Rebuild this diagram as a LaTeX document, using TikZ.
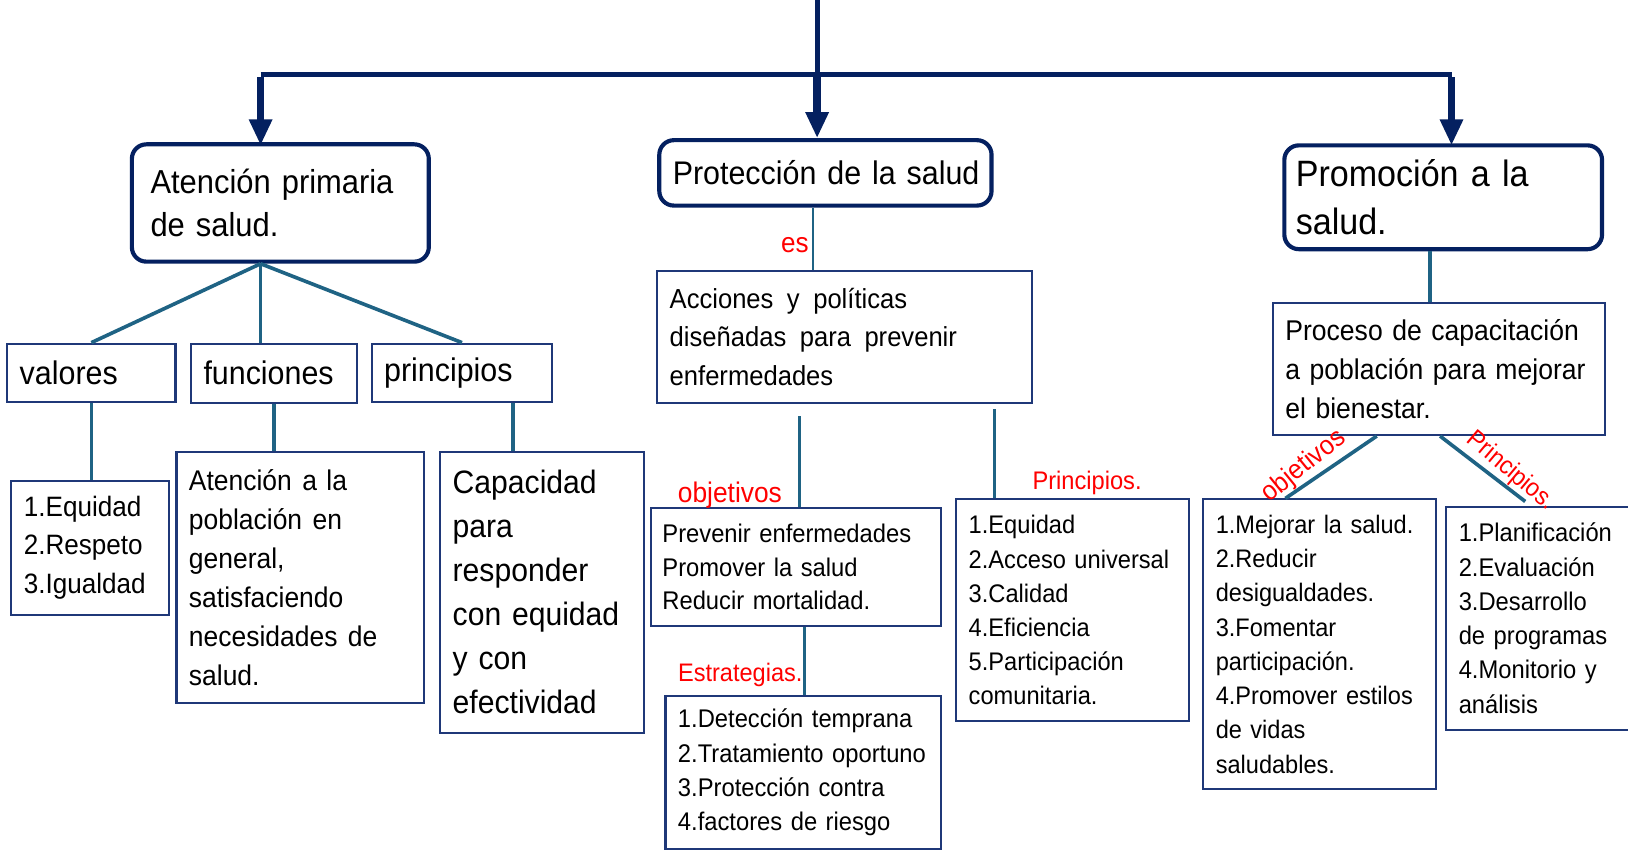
\documentclass[tikz,border=0pt]{standalone}
\usepackage{fontspec}
\setmainfont[FakeStretch=0.93,WordSpace=0.8]{Liberation Sans}
\usetikzlibrary{arrows.meta,calc}
\definecolor{navy}{RGB}{4,32,96}
\definecolor{conn}{RGB}{31,99,132}
\definecolor{bord}{RGB}{31,56,120}
\definecolor{lblred}{RGB}{255,0,0}
\newcommand{\fsz}[2]{\fontsize{#1}{#2}\selectfont}
\newcommand{\Lx}[1]{\mbox{#1}}
\newcommand{\ws}{\hspace{10pt}}
\newcommand{\wsb}{\hspace{13pt}}
\begin{document}
\begin{tikzpicture}[x=1pt,y=-1pt,
 title/.style={draw=navy, line width=4pt, rounded corners=14pt, fill=white, align=left, inner ysep=0pt},
 box/.style={draw=bord, line width=2pt, fill=white, align=left, inner ysep=0pt, inner xsep=12pt},
 link/.style={draw=conn, line width=3.5pt},
 bar/.style={draw=navy, line width=5pt},
 arr/.style={draw=navy, line width=7pt, -{Triangle[length=25pt,width=21pt]}},
 lbl/.style={text=lblred, inner sep=0pt},
]
\useasboundingbox (0,0) rectangle (1568,823);
\clip (0,0) rectangle (1568,823);

% titles
\node[title, minimum width=286pt, minimum height=113pt, text width=250pt, inner xsep=18pt, font=\fsz{32}{42}] (T1) at (270,195.5) {\Lx{Atención primaria}\\\Lx{de salud.}};
\node[title, minimum width=320pt, minimum height=63pt, text width=294pt, inner xsep=13pt, font=\fsz{31.5}{42}] (T2) at (795,166.5) {\Lx{Protección de la salud}};
\node[title, minimum width=306pt, minimum height=100pt, text width=284pt, inner xsep=11pt, font=\fsz{35.3}{46}] (T3) at (1390,190) {\Lx{Promoción a la}\\\Lx{salud.}};

% left branch
\node[box, minimum width=162pt, minimum height=56pt, text width=138pt, font=\fsz{31.5}{40}] (valores) at (88,359) {valores};
\node[box, minimum width=160pt, minimum height=57pt, text width=136pt, font=\fsz{31.5}{40}] (funciones) at (264,359.5) {funciones};
\node[box, minimum width=174pt, minimum height=56pt, text width=150pt, font=\fsz{31.5}{40}] (principios) at (445,359) {principios};
\node[box, minimum width=152pt, minimum height=129pt, text width=128pt, font=\fsz{27}{37.5}] (eq) at (87,527.5) {1.Equidad\\2.Respeto\\3.Igualdad};
\node[box, minimum width=238pt, minimum height=242pt, text width=214pt, font=\fsz{27.4}{37.6}] (atn) at (289,556) {\Lx{Atención\ws a la}\\\Lx{población\ws en}\\general,\\satisfaciendo\\\Lx{necesidades\ws de}\\salud.};
\node[box, minimum width=196pt, minimum height=271pt, text width=172pt, font=\fsz{31.2}{42.4}] (cap) at (522,570.5) {Capacidad\\para\\responder\\\Lx{con equidad}\\\Lx{y con}\\efectividad};

% middle branch
\node[box, minimum width=361pt, minimum height=127pt, text width=337pt, font=\fsz{26.5}{37}] (acc) at (813.5,324.5) {\Lx{Acciones\wsb y\wsb políticas}\\\Lx{diseñadas\wsb para\wsb prevenir}\\enfermedades};
\node[box, minimum width=279pt, minimum height=114pt, text width=257pt, inner xsep=11pt, font=\fsz{24.6}{32.5}] (prev) at (766.5,546) {\Lx{Prevenir enfermedades}\\\Lx{Promover la salud}\\\Lx{Reducir mortalidad.}};
\node[box, minimum width=265pt, minimum height=148pt, text width=241pt, font=\fsz{24.6}{33}] (det) at (773.5,744) {\Lx{1.Detección temprana}\\\Lx{2.Tratamiento oportuno}\\\Lx{3.Protección contra}\\\Lx{4.factores de riesgo}};
\node[box, minimum width=224pt, minimum height=213pt, text width=200pt, font=\fsz{24.5}{32.8}] (prin2) at (1033,587.5) {1.Equidad\\\Lx{2.Acceso universal}\\3.Calidad\\4.Eficiencia\\5.Participación\\comunitaria.};

% right branch
\node[box, minimum width=320pt, minimum height=127pt, text width=296pt, font=\fsz{27.5}{37.5}] (pro) at (1386,355.5) {\Lx{Proceso de capacitación}\\\Lx{a población para mejorar}\\\Lx{el bienestar.}};
\node[box, minimum width=224pt, minimum height=279pt, text width=200pt, font=\fsz{24.4}{33}] (mej) at (1271,620.5) {\Lx{1.Mejorar la salud.}\\2.Reducir\\desigualdades.\\3.Fomentar\\participación.\\\Lx{4.Promover estilos}\\\Lx{de vidas}\\saludables.};
\node[box, minimum width=200pt, minimum height=215pt, text width=176pt, font=\fsz{24.6}{33}] (pla) at (1493,595.5) {1.Planificación\\2.Evaluación\\3.Desarrollo\\\Lx{de programas}\\\Lx{4.Monitorio y}\\análisis};

% top arrows
\coordinate (top) at (787,0);
\coordinate (jm) at (787,72);
\coordinate (jl) at (251,72);
\coordinate (jr) at (1398,72);
\draw[bar] (top) -- (jm);
\draw[bar] (jl) -- (jr);
\draw[arr] ([yshift=-2.5pt]jm) -- (jm |- T2.north);
\draw[arr] ([yshift=-2.5pt]jl) -- ([yshift=-3pt]jl |- T1.north);
\draw[arr] ([yshift=-2.5pt]jr) -- ([yshift=-2pt]jr |- T3.north);

% left connectors
\draw[link] (T1.south -| jl) -- (valores.north);
\draw[link] (T1.south -| jl) -- (funciones.north -| jl);
\draw[link] (T1.south -| jl) -- (principios.north);
\draw[link] (valores.south) -- (valores.south |- eq.north);
\draw[link] (funciones.south) -- (funciones.south |- atn.north);
\coordinate (px) at (494,0);
\draw[link] (principios.south -| px) -- (cap.north -| px);

% middle connectors
\coordinate (mx) at (783,0);
\draw[conn, line width=2.5pt] (T2.south -| mx) -- (acc.north -| mx);
\node[lbl, font=\fsz{27}{32}, anchor=east] (es) at (779,236) {es};
\coordinate (ox) at (770,401);
\draw[link] (ox) -- (ox |- prev.north);
\coordinate (qx) at (958,394);
\draw[link] (qx) -- (qx |- prin2.north);
\coordinate (sx) at (775,0);
\draw[link] (prev.south -| sx) -- (det.north -| sx);
\node[lbl, font=\fsz{27.3}{32}] (obj1) at (703,477) {objetivos};
\node[lbl, font=\fsz{24.4}{30}] (est) at (713,650) {Estrategias.};
\node[lbl, font=\fsz{24.5}{30}] (prl) at (1047,465) {Principios.};

% right connectors
\coordinate (rx) at (1377,0);
\draw[link] (T3.south -| rx) -- (pro.north -| rx);
\coordinate (d1) at (1326,0);
\coordinate (e1) at (1238,0);
\coordinate (d2) at (1387,0);
\coordinate (e2) at (1469,483);
\draw[link] (pro.south -| d1) -- (mej.north -| e1);
\draw[link] (pro.south -| d2) -- (e2);
\node[lbl, font=\fsz{26}{30}, rotate=39] (obj2) at (1256,449) {objetivos};
\node[lbl, font=\fsz{24.2}{30}, rotate=-40] (prr) at (1455,454) {Principios.};
\end{tikzpicture}
\end{document}
